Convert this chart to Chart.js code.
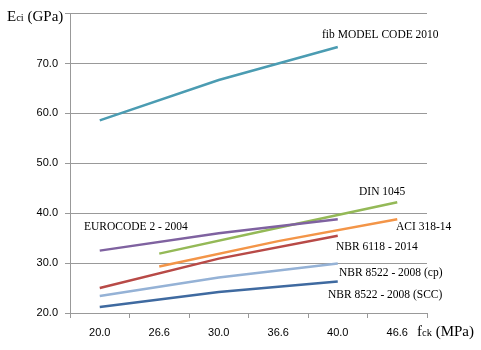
<!DOCTYPE html>
<html>
<head>
<meta charset="utf-8">
<script src="https://cdn.jsdelivr.net/npm/chart.js@4"></script>
<style>
  body { margin: 0; background: #fff; }
</style>
</head>
<body>
<canvas id="myChart" width="481" height="350"></canvas>
<script>
// fck classes (MPa) on the category axis
let categories = ['20.0', '26.6', '30.0', '36.6', '40.0', '46.6'];

// Eci (GPa), null where a code gives no value
let fib    = [58.6, null, 66.7, null, 73.3, null];
let euro   = [32.5, null, 36.0, null, 38.8, null];
let din    = [null, 31.9, null, 37.1, null, 42.2];
let aci    = [null, 29.3, null, 34.4, null, 38.8];
let nbr6118 = [25.0, null, 30.9, null, 35.5, null];
let nbrCp  = [23.4, null, 27.1, null, 29.9, null];
let nbrScc = [21.2, null, 24.2, null, 26.3, null];

let yTicks = [20, 30, 40, 50, 60, 70, 80];

let serif = '"Liberation Serif", "Times New Roman", serif';

// text put next to the lines
let notes = [
  { text: 'fib MODEL CODE 2010', x: 322, y: 35 },
  { text: 'EUROCODE 2 - 2004', x: 84, y: 227 },
  { text: 'DIN 1045', x: 359, y: 192 },
  { text: 'ACI 318-14', x: 396, y: 227 },
  { text: 'NBR 6118 - 2014', x: 336, y: 247 },
  { text: 'NBR 8522 - 2008 (cp)', x: 339, y: 273 },
  { text: 'NBR 8522 - 2008 (SCC)', x: 328, y: 295 }
];

function drawTitle(ctx, x, y, big, sub, rest) {
  ctx.font = '15px ' + serif;
  ctx.fillText(big, x, y);
  x += ctx.measureText(big).width;
  ctx.font = '10.5px ' + serif;
  ctx.fillText(sub, x, y);
  x += ctx.measureText(sub).width;
  ctx.font = '15px ' + serif;
  ctx.fillText(rest, x, y);
}

const labelsPlugin = {
  id: 'labels',
  afterDraw(chart) {
    let ctx = chart.ctx;
    ctx.save();
    ctx.fillStyle = '#000';
    ctx.textBaseline = 'middle';
    ctx.textAlign = 'left';
    ctx.font = '11.5px ' + serif;
    notes.forEach(n => ctx.fillText(n.text, n.x, n.y));
    ctx.textBaseline = 'alphabetic';
    drawTitle(ctx, 7, 21, 'E', 'ci', ' (GPa)');
    drawTitle(ctx, 417, 336, 'f', 'ck', ' (MPa)');
    ctx.restore();
  }
};

function line(data, color) {
  return {
    data: data,
    borderColor: color,
    borderWidth: 2.5,
    pointRadius: 0,
    tension: 0,
    spanGaps: true,
    fill: false
  };
}

const ctx = document.getElementById('myChart');
let chrt = new Chart(ctx, {
  type: 'line',
  data: {
    labels: categories,
    datasets: [
      line(fib, '#4b9cb2'),
      line(euro, '#7f62a0'),
      line(din, '#94b957'),
      line(aci, '#f39548'),
      line(nbr6118, '#b84a47'),
      line(nbrCp, '#95b2d6'),
      line(nbrScc, '#3f6aa0')
    ]
  },
  options: {
    responsive: false,
    animation: false,
    layout: { padding: { top: 9, right: 54, left: 0, bottom: 0 } },
    plugins: {
      legend: { display: false },
      tooltip: { enabled: false }
    },
    scales: {
      x: {
        offset: true,
        grid: {
          offset: true,
          drawOnChartArea: false,
          tickLength: 5,
          color: '#999'
        },
        border: { color: '#999' },
        ticks: {
          padding: 8,
          color: '#000',
          font: { family: '"Liberation Sans", Arial, sans-serif', size: 11 }
        },
        afterFit(scale) { scale.height = 37; }
      },
      y: {
        min: 20,
        max: 80,
        afterBuildTicks(scale) { scale.ticks = yTicks.map(v => ({ value: v })); },
        grid: { tickLength: 5, color: '#999' },
        border: { color: '#999' },
        ticks: {
          padding: 7,
          color: '#000',
          font: { family: '"Liberation Sans", Arial, sans-serif', size: 11 },
          callback: v => v === 80 ? '' : v.toFixed(1)
        },
        afterFit(scale) { scale.width = 70; }
      }
    }
  },
  plugins: [labelsPlugin]
});
</script>
</body>
</html>
